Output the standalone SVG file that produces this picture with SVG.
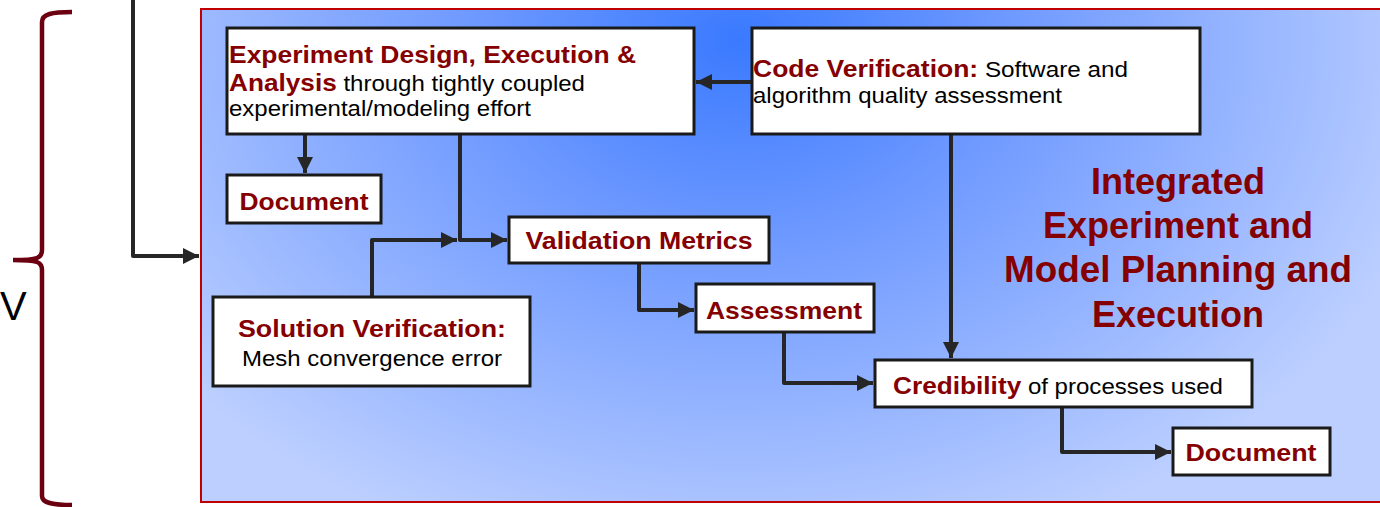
<svg xmlns="http://www.w3.org/2000/svg" width="1380" height="507" viewBox="0 0 1380 507">
<defs>
<radialGradient id="bg" gradientUnits="userSpaceOnUse" cx="740" cy="40" r="720" gradientTransform="translate(740 40) scale(1 0.75) translate(-740 -40)">
<stop offset="0" stop-color="#3a7aff"/>
<stop offset="0.35" stop-color="#6b97ff"/>
<stop offset="1" stop-color="#bccfff"/>
</radialGradient>
<marker id="ah" viewBox="0 0 10 10" refX="10" refY="5" markerWidth="4" markerHeight="4" orient="auto" markerUnits="strokeWidth">
<path d="M0,0 L10,5 L0,10 z" fill="#262626"/>
</marker>
<style>
.box{fill:#fff;stroke:#1a1a1a;stroke-width:3}
.conn{fill:none;stroke:#262626;stroke-width:4;stroke-linejoin:round;marker-end:url(#ah)}
text{font-family:"Liberation Sans",Arial,sans-serif}
.b{font-weight:bold;fill:#850000}
.r{fill:#000}
.t{font-size:24px}
.s{font-size:22px}
.title{font-size:36px;font-weight:bold;fill:#850000;text-anchor:middle}
</style>
</defs>
<rect x="201" y="9" width="1185" height="493" fill="url(#bg)" stroke="#c00000" stroke-width="2"/>
<g id="brace">
<path d="M72,12 C52,12 42,14 42,22 L42,250 C42,258 38,260 13,260 C38,260 42,262 42,270 L42,496 C42,503 52,505 72,505" fill="none" stroke="#6b0010" stroke-width="4.5"/>
</g>
<text x="0" y="320" font-size="40" fill="#000">V</text>
<g id="connectors">
<path class="conn" d="M133,0 L133,256 L199,256"/>
<path class="conn" d="M752,82 L696,82"/>
<path class="conn" d="M305,134 L305,173"/>
<path class="conn" d="M460,134 L460,240 L507,240"/>
<path class="conn" d="M372,297 L372,240 L457,240"/>
<path class="conn" d="M639,263 L639,310 L694,310"/>
<path class="conn" d="M784,332 L784,383 L873,383"/>
<path class="conn" d="M951,134 L951,358"/>
<path class="conn" d="M1062,407 L1062,452 L1171,452"/>
</g>
<g id="n-experiment">
<rect class="box" x="227" y="28" width="467" height="106"/>
<text class="t" x="229" y="63" textLength="407" lengthAdjust="spacingAndGlyphs"><tspan class="b">Experiment Design, Execution &amp;</tspan></text>
<text x="229" y="91" textLength="356" lengthAdjust="spacingAndGlyphs"><tspan class="b t">Analysis</tspan><tspan class="r s"> through tightly coupled</tspan></text>
<text class="r s" x="229" y="116" textLength="302" lengthAdjust="spacingAndGlyphs">experimental/modeling effort</text>
</g>
<g id="n-code">
<rect class="box" x="752" y="28" width="448" height="106"/>
<text x="753" y="77" textLength="375" lengthAdjust="spacingAndGlyphs"><tspan class="b t">Code Verification:</tspan><tspan class="r s"> Software and</tspan></text>
<text class="r s" x="753" y="103" textLength="309" lengthAdjust="spacingAndGlyphs">algorithm quality assessment</text>
</g>
<g id="n-doc1">
<rect class="box" x="227" y="175" width="154" height="48"/>
<text class="b t" x="304" y="210" text-anchor="middle" textLength="129" lengthAdjust="spacingAndGlyphs">Document</text>
</g>
<g id="n-valid">
<rect class="box" x="509" y="217" width="260" height="46"/>
<text class="b t" x="639" y="249" text-anchor="middle" textLength="227" lengthAdjust="spacingAndGlyphs">Validation Metrics</text>
</g>
<g id="n-solution">
<rect class="box" x="213" y="297" width="317" height="89"/>
<text class="b t" x="372" y="337" text-anchor="middle" textLength="268" lengthAdjust="spacingAndGlyphs">Solution Verification:</text>
<text class="r s" x="372" y="366" text-anchor="middle" textLength="260" lengthAdjust="spacingAndGlyphs">Mesh convergence error</text>
</g>
<g id="n-assess">
<rect class="box" x="696" y="284" width="178" height="48"/>
<text class="b t" x="784" y="319" text-anchor="middle" textLength="156" lengthAdjust="spacingAndGlyphs">Assessment</text>
</g>
<g id="n-cred">
<rect class="box" x="875" y="360" width="377" height="47"/>
<text x="893" y="394" textLength="330" lengthAdjust="spacingAndGlyphs"><tspan class="b t">Credibility</tspan><tspan class="r s"> of processes used</tspan></text>
</g>
<g id="n-doc2">
<rect class="box" x="1173" y="428" width="157" height="47"/>
<text class="b t" x="1251" y="461" text-anchor="middle" textLength="131" lengthAdjust="spacingAndGlyphs">Document</text>
</g>
<g id="title">
<text class="title" x="1178" y="194">Integrated</text>
<text class="title" x="1178" y="238">Experiment and</text>
<text class="title" x="1178" y="282" textLength="348" lengthAdjust="spacingAndGlyphs">Model Planning and</text>
<text class="title" x="1178" y="327">Execution</text>
</g>
</svg>
